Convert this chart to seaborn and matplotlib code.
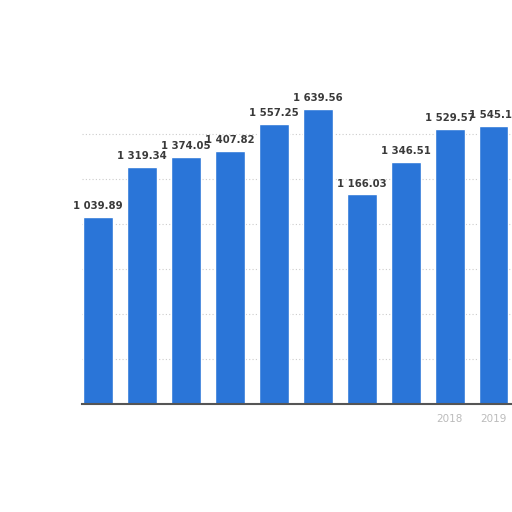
import matplotlib
matplotlib.use("Agg")
import matplotlib.pyplot as plt
import seaborn as sns
import pandas as pd

years = ["2010", "2011", "2012", "2013", "2014", "2015", "2016", "2017", "2018", "2019"]
values = [1039.89, 1319.34, 1374.05, 1407.82, 1557.25, 1639.56, 1166.03, 1346.51, 1529.57, 1545.19]
shown_labels = ["", "", "", "", "", "", "", "", "2018", "2019"]

df = pd.DataFrame({"year": years, "value": values})

sns.set_theme(style="white")
plt.rcParams['font.family'] = ['DejaVu Sans']

fig = plt.figure(figsize=(5.12, 5.12), dpi=100)
ax = fig.add_axes([82/512, 1 - 404/512, 1 - 82/512, (404 - 89)/512])

sns.barplot(data=df, x="year", y="value", color="#2a75d8", saturation=1,
            width=0.68, ax=ax)

ax.set_ylim(0, 1750)
ax.set_xlim(-0.36, 9.42)
ax.set_yticks([250, 500, 750, 1000, 1250, 1500])
ax.yaxis.grid(True, linestyle=(0, (1, 2)), color="#cccccc", linewidth=0.8)
ax.set_axisbelow(True)
ax.set_yticklabels([])
ax.tick_params(axis="y", length=0)
ax.tick_params(axis="x", length=0, labelsize=7.5, labelcolor="#bbbbbb", pad=7)
ax.set_xticks(range(len(years)))
ax.set_xticklabels(shown_labels)
ax.set_xlabel("")
ax.set_ylabel("")
for s in ["top", "right", "left"]:
    ax.spines[s].set_visible(False)
ax.spines["bottom"].set_color("#555555")
ax.spines["bottom"].set_linewidth(1.5)

for i, v in enumerate(values):
    label = f"{v:,.2f}".replace(",", " ")
    ax.annotate(label, (i, v), xytext=(0, 4), textcoords="offset points",
                ha="center", va="bottom", fontsize=7.3, fontweight="semibold",
                color="#3a3a3a", clip_on=False)

fig.savefig("out.png", dpi=100, facecolor="white")
